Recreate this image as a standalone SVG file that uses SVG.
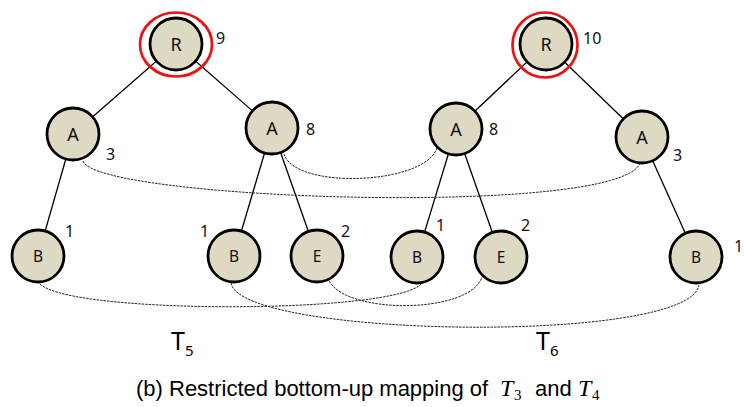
<svg xmlns="http://www.w3.org/2000/svg" width="744" height="407" viewBox="0 0 744 407">
  <style>
    .edge { stroke: #000; stroke-width: 1.3; fill: none; }
    .map { stroke: #222; stroke-width: 1; stroke-dasharray: 2.5 1; fill: none; }
    .node { fill: #ddd9c3; stroke: #000; stroke-width: 2.8; }
    .ring { fill: none; stroke: #ee1111; stroke-width: 2.7; }
    .lbl { font-family: "Noto Sans", "Open Sans", sans-serif; font-size: 18px; fill: #111; text-anchor: middle; }
    .lbl.s { font-size: 15.5px; }
    .num { font-family: "Noto Sans", "Open Sans", sans-serif; font-size: 16px; fill: #111; }
    .tname { font-family: "Noto Sans", "Open Sans", sans-serif; font-size: 25px; fill: #000; }
    .cap { font-family: "Liberation Sans", Arial, sans-serif; font-size: 22px; fill: #000; }
    .math { font-family: "Liberation Serif", "DejaVu Serif", serif; font-style: italic; font-size: 24px; fill: #000; }
    .mathsub { font-family: "Liberation Serif", "DejaVu Serif", serif; font-size: 15px; fill: #000; }
  </style>

  <!-- tree edges and mapping links -->
  <g id="connectors">
    <g id="tree-edges">
      <line class="edge" x1="176" y1="44" x2="73" y2="134"/>
      <line class="edge" x1="176" y1="44" x2="272" y2="128"/>
      <line class="edge" x1="73" y1="134" x2="38" y2="256"/>
      <line class="edge" x1="272" y1="128" x2="234" y2="256"/>
      <line class="edge" x1="272" y1="128" x2="317" y2="256"/>
      <line class="edge" x1="546" y1="44" x2="456" y2="129"/>
      <line class="edge" x1="546" y1="44" x2="642" y2="137"/>
      <line class="edge" x1="456" y1="129" x2="417" y2="257"/>
      <line class="edge" x1="456" y1="129" x2="501" y2="257"/>
      <line class="edge" x1="642" y1="137" x2="696" y2="257"/>
    </g>
    <g id="mapping-links">
      <path class="map" d="M83,161 C95,200 620,218 640,163"/>
      <path class="map" d="M284,154 C295,190 425,185 437,148"/>
      <path class="map" d="M38,281 C50,315 400,315 422,283"/>
      <path class="map" d="M231,283 C240,338 690,345 699,285"/>
      <path class="map" d="M328,278 C340,315 470,315 482,277"/>
    </g>
  </g>

  <!-- T5 -->
  <g id="t5-R">
    <circle class="node" cx="176" cy="44" r="26"/>
    <ellipse class="ring" cx="176" cy="44.5" rx="36" ry="32"/>
    <text class="lbl" x="176" y="50.5">R</text>
    <text class="num" x="216" y="44">9</text>
  </g>
  <g id="t5-A1">
    <circle class="node" cx="73" cy="134" r="26"/>
    <text class="lbl" x="73" y="140.5">A</text>
    <text class="num" x="106" y="160">3</text>
  </g>
  <g id="t5-A2">
    <circle class="node" cx="272" cy="128" r="26"/>
    <text class="lbl" x="272" y="134.5">A</text>
    <text class="num" x="306" y="135">8</text>
  </g>
  <g id="t5-B1">
    <circle class="node" cx="38" cy="256" r="26"/>
    <text class="lbl s" x="38" y="261.5">B</text>
    <text class="num" x="65" y="237">1</text>
  </g>
  <g id="t5-B2">
    <circle class="node" cx="234" cy="256" r="26"/>
    <text class="lbl s" x="234" y="261.5">B</text>
    <text class="num" x="200" y="237">1</text>
  </g>
  <g id="t5-E">
    <circle class="node" cx="317" cy="256" r="26"/>
    <text class="lbl s" x="317" y="261.5">E</text>
    <text class="num" x="341" y="237">2</text>
  </g>

  <!-- T6 -->
  <g id="t6-R">
    <circle class="node" cx="546" cy="44" r="26"/>
    <circle class="ring" cx="545" cy="45" r="32.5"/>
    <text class="lbl" x="546" y="50.5">R</text>
    <text class="num" x="583" y="44">10</text>
  </g>
  <g id="t6-A1">
    <circle class="node" cx="456" cy="129" r="26"/>
    <text class="lbl" x="456" y="135.5">A</text>
    <text class="num" x="489" y="135">8</text>
  </g>
  <g id="t6-A2">
    <circle class="node" cx="642" cy="137" r="26"/>
    <text class="lbl" x="642" y="143.5">A</text>
    <text class="num" x="673" y="161">3</text>
  </g>
  <g id="t6-B1">
    <circle class="node" cx="417" cy="257" r="26"/>
    <text class="lbl s" x="417" y="262.5">B</text>
    <text class="num" x="436" y="231">1</text>
  </g>
  <g id="t6-E">
    <circle class="node" cx="501" cy="257" r="26"/>
    <text class="lbl s" x="501" y="262.5">E</text>
    <text class="num" x="521" y="231">2</text>
  </g>
  <g id="t6-B2">
    <circle class="node" cx="696" cy="257" r="26"/>
    <text class="lbl s" x="696" y="262.5">B</text>
    <text class="num" x="734" y="252">1</text>
  </g>

  <!-- tree names -->
  <text class="tname" x="171" y="350">T<tspan font-size="15" dy="6">5</tspan></text>
  <text class="tname" x="536" y="350">T<tspan font-size="15" dy="6">6</tspan></text>

  <!-- caption -->
  <text class="cap" x="136" y="396">(b) Restricted bottom-up mapping of</text>
  <text class="math" x="500" y="396">T</text>
  <text class="mathsub" x="514" y="400">3</text>
  <text class="cap" x="535" y="396">and</text>
  <text class="math" x="578" y="396">T</text>
  <text class="mathsub" x="592" y="400">4</text>
</svg>
